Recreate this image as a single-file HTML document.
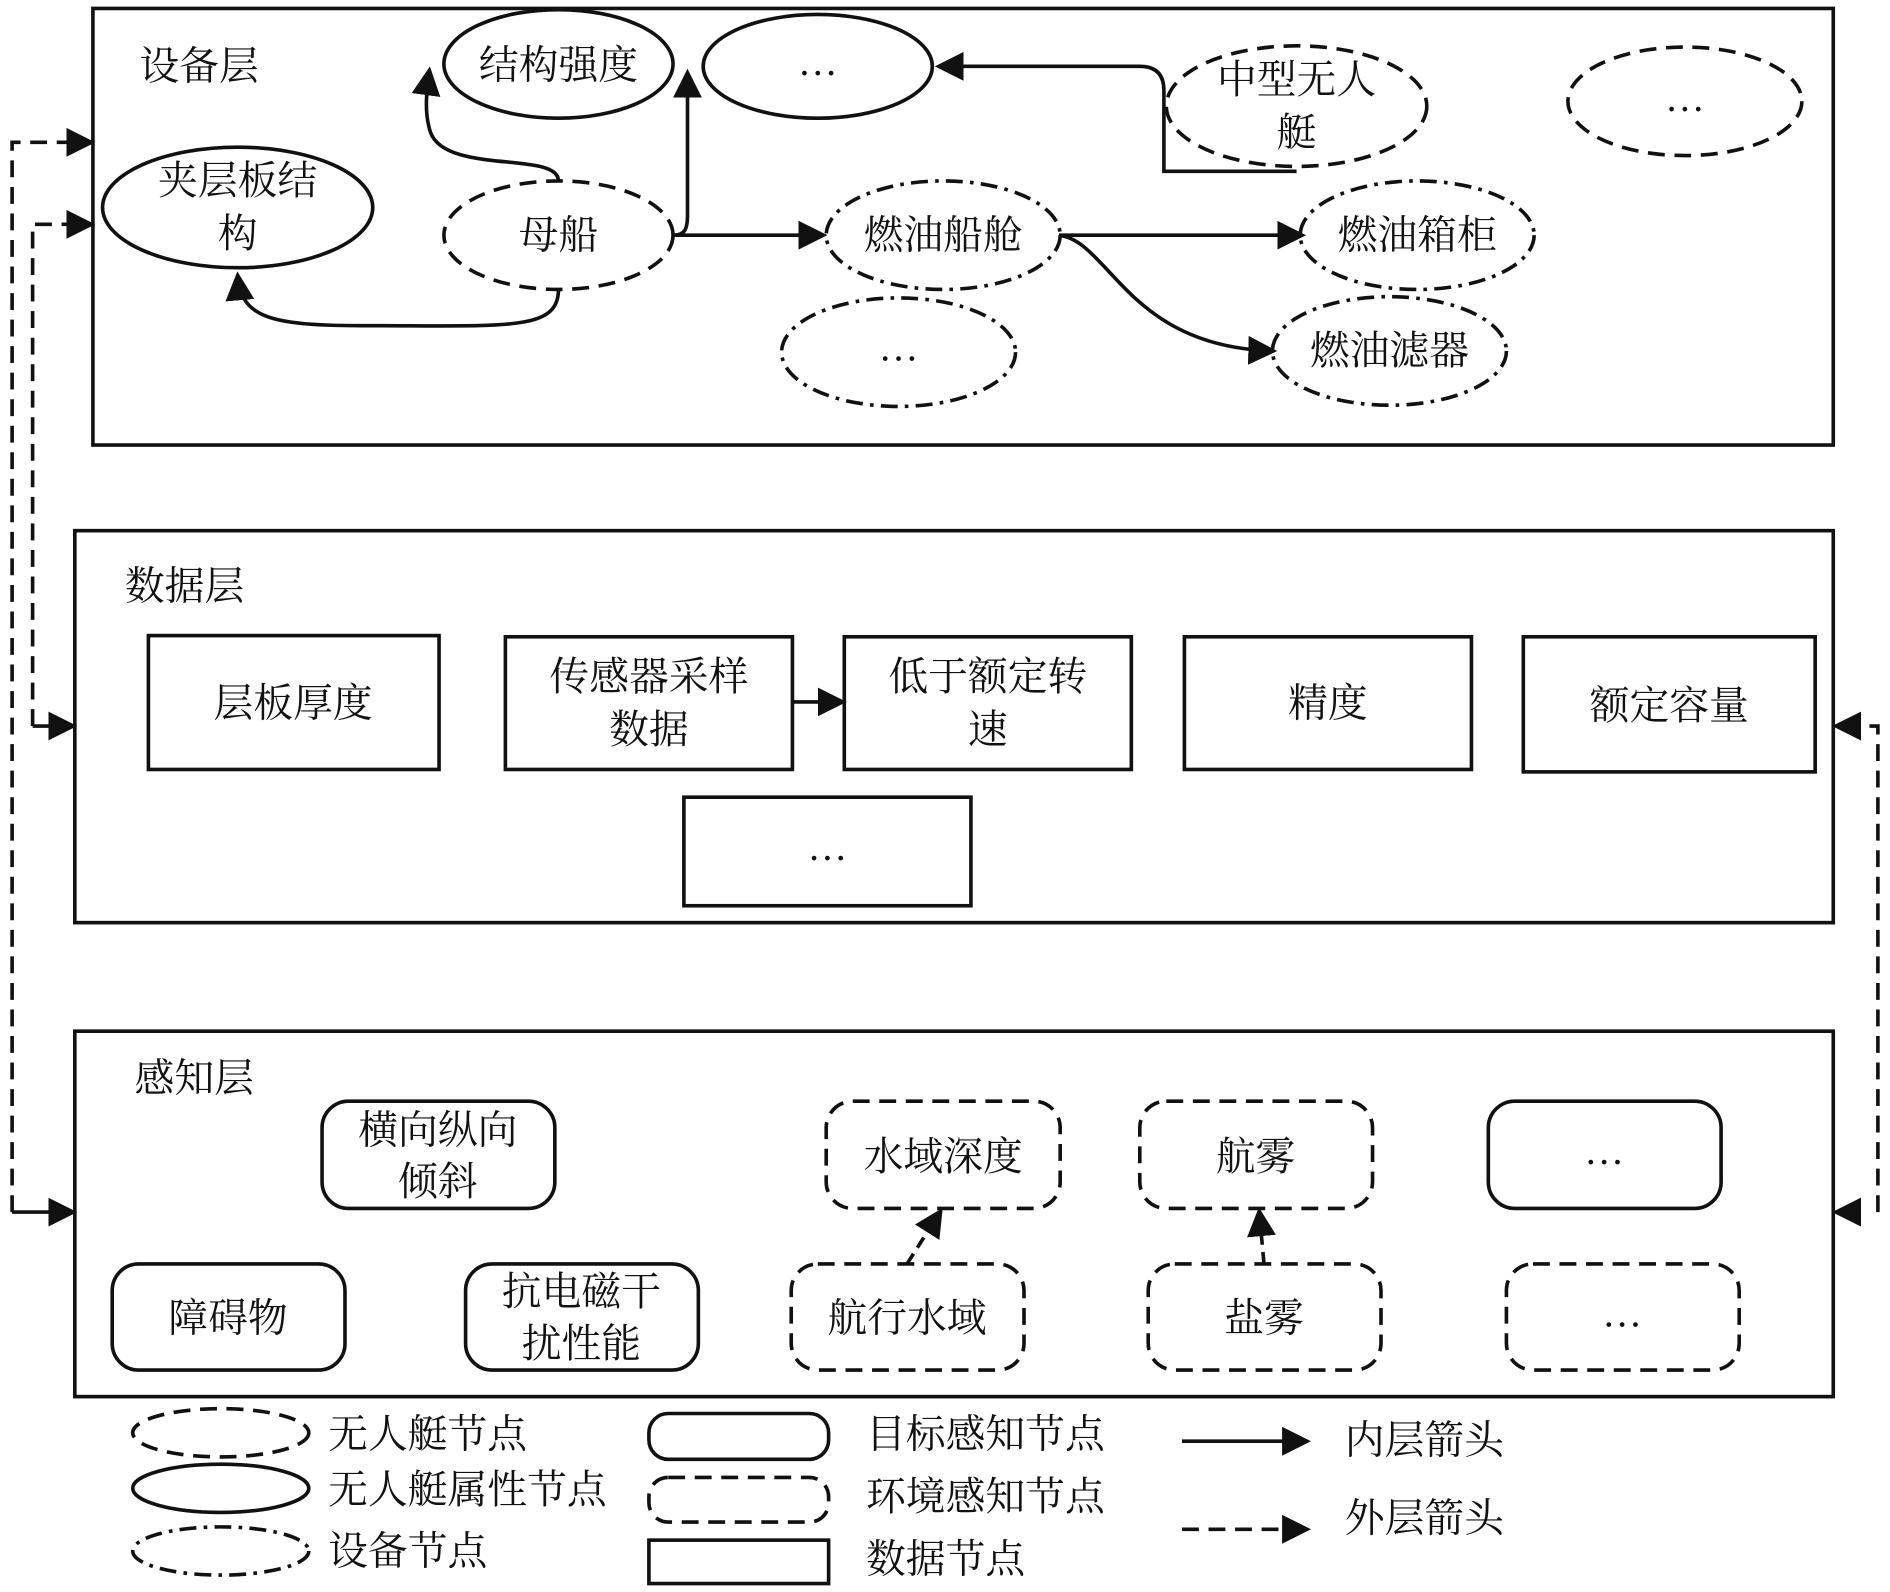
<!DOCTYPE html>
<html><head><meta charset="utf-8"><style>
html,body{margin:0;padding:0;background:#fff;}
svg{display:block;}
text{font-family:"Liberation Serif","Noto Serif CJK SC","Noto Sans CJK SC",serif;fill:#111;}
</style></head><body>
<svg width="1890" height="1592" viewBox="0 0 1567 1320" xmlns="http://www.w3.org/2000/svg">
<defs>
<marker id="a" markerWidth="8" markerHeight="8" refX="7" refY="4" orient="auto" markerUnits="strokeWidth"><path d="M0,0 L8,4 L0,8 z" fill="#111"/></marker>
</defs>
<g fill="none" stroke="#111" stroke-width="3">
<!-- layer boxes -->
<rect x="77" y="7" width="1443" height="362"/>
<rect x="62" y="440" width="1458" height="325"/>
<rect x="62" y="855" width="1458" height="303"/>
<!-- device layer ellipses -->
<ellipse cx="463" cy="53" rx="95" ry="45"/>
<ellipse cx="678" cy="55" rx="95" ry="43"/>
<ellipse cx="1075" cy="88" rx="108" ry="50" stroke-dasharray="14 8"/>
<ellipse cx="1397" cy="84" rx="97" ry="45" stroke-dasharray="14 8"/>
<ellipse cx="197" cy="172" rx="112" ry="50"/>
<ellipse cx="463" cy="195" rx="95" ry="45" stroke-dasharray="14 8"/>
<ellipse cx="782" cy="195" rx="97" ry="45" stroke-dasharray="14 6 3 6"/>
<ellipse cx="1175" cy="195" rx="97" ry="45" stroke-dasharray="14 6 3 6"/>
<ellipse cx="745" cy="292" rx="97" ry="45" stroke-dasharray="14 6 3 6"/>
<ellipse cx="1152" cy="291" rx="97" ry="45" stroke-dasharray="14 6 3 6"/>
<!-- connectors -->
<path d="M463,150 C463,125 370,145 357,110 C352,95 353,80 356,58" marker-end="url(#a)"/>
<path d="M558,195 C568,195 570,190 570,178 L570,60" marker-end="url(#a)"/>
<path d="M560,195 L683,195" marker-end="url(#a)"/>
<path d="M1075,142 L965,142 L965,75 Q965,55 945,55 L778,55" marker-end="url(#a)"/>
<path d="M463,240 C463,275 420,270 300,270 C220,270 200,262 197,228" marker-end="url(#a)"/>
<path d="M878,195 L1080,195" marker-end="url(#a)"/>
<path d="M878,195 C920,200 935,288 1056,291" marker-end="url(#a)"/>
<!-- data layer -->
<rect x="123" y="527" width="241" height="111"/>
<rect x="419" y="528" width="238" height="110"/>
<rect x="700" y="528" width="238" height="110"/>
<rect x="982" y="528" width="238" height="110"/>
<rect x="1263" y="528" width="242" height="112"/>
<rect x="567" y="661" width="238" height="90"/>
<path d="M657,582 L699,582" marker-end="url(#a)"/>
<!-- perception layer -->
<rect x="267" y="913" width="193" height="89" rx="22"/>
<rect x="685" y="913" width="194" height="89" rx="22" stroke-dasharray="14 8"/>
<rect x="945" y="913" width="193" height="89" rx="22" stroke-dasharray="14 8"/>
<rect x="1234" y="913" width="193" height="89" rx="22"/>
<rect x="93" y="1048" width="193" height="88" rx="22"/>
<rect x="386" y="1048" width="193" height="88" rx="22"/>
<rect x="656" y="1048" width="193" height="88" rx="22" stroke-dasharray="14 8"/>
<rect x="952" y="1048" width="193" height="88" rx="22" stroke-dasharray="14 8"/>
<rect x="1249" y="1048" width="193" height="88" rx="22" stroke-dasharray="14 8"/>
<path d="M752,1048 L780,1004" stroke-dasharray="10 6" marker-end="url(#a)"/>
<path d="M1048,1048 L1044,1004" stroke-dasharray="10 6" marker-end="url(#a)"/>
<!-- outer dashed arrows -->
<path d="M10,1005 L10,118 L76,118" stroke-dasharray="14 8" marker-end="url(#a)"/>
<path d="M27,602 L27,186 L76,186" stroke-dasharray="14 8" marker-end="url(#a)"/>
<path d="M27,602 L61,602" marker-end="url(#a)"/>
<path d="M10,1005 L61,1005" marker-end="url(#a)"/>
<path d="M1557,1005 L1557,602 L1522,602" stroke-dasharray="14 8" marker-end="url(#a)"/>
<path d="M1540,1005 L1522,1005" marker-end="url(#a)"/>
<!-- legend -->
<ellipse cx="183" cy="1188" rx="73" ry="20" stroke-dasharray="14 8"/>
<ellipse cx="183" cy="1234" rx="73" ry="20"/>
<ellipse cx="183" cy="1286" rx="73" ry="20" stroke-dasharray="14 6 3 6"/>
<rect x="538" y="1172" width="149" height="38" rx="16"/>
<rect x="538" y="1225" width="149" height="37" rx="16" stroke-dasharray="14 8"/>
<rect x="538" y="1277" width="149" height="36"/>
<path d="M980,1195 L1084,1195" marker-end="url(#a)"/>
<path d="M980,1268 L1084,1268" stroke-dasharray="14 8" marker-end="url(#a)"/>
</g>
<g font-size="33" text-anchor="middle">
<text x="165" y="66">设备层</text>
<text x="463" y="65">结构强度</text>
<text x="678" y="62">…</text>
<text x="1075" y="77">中型无人</text>
<text x="1075" y="121">艇</text>
<text x="1397" y="92">…</text>
<text x="197" y="161">夹层板结</text>
<text x="197" y="205">构</text>
<text x="463" y="206">母船</text>
<text x="782" y="206">燃油船舱</text>
<text x="1175" y="206">燃油箱柜</text>
<text x="745" y="299">…</text>
<text x="1152" y="302">燃油滤器</text>
<text x="153" y="497">数据层</text>
<text x="243" y="594">层板厚度</text>
<text x="538" y="572">传感器采样</text>
<text x="538" y="616">数据</text>
<text x="819" y="572">低于额定转</text>
<text x="819" y="616">速</text>
<text x="1101" y="594">精度</text>
<text x="1384" y="596">额定容量</text>
<text x="686" y="713">…</text>
<text x="161" y="905">感知层</text>
<text x="363" y="948">横向纵向</text>
<text x="363" y="991">倾斜</text>
<text x="782" y="970">水域深度</text>
<text x="1041" y="970">航雾</text>
<text x="1330" y="965">…</text>
<text x="189" y="1104">障碍物</text>
<text x="482" y="1082">抗电磁干</text>
<text x="482" y="1125">扰性能</text>
<text x="752" y="1104">航行水域</text>
<text x="1048" y="1104">盐雾</text>
<text x="1345" y="1100">…</text>
</g>
<g font-size="33">
<text x="272" y="1200">无人艇节点</text>
<text x="272" y="1246">无人艇属性节点</text>
<text x="272" y="1297">设备节点</text>
<text x="718" y="1200">目标感知节点</text>
<text x="718" y="1252">环境感知节点</text>
<text x="718" y="1304">数据节点</text>
<text x="1115" y="1205">内层箭头</text>
<text x="1115" y="1270">外层箭头</text>
</g>
</svg>
</body></html>
